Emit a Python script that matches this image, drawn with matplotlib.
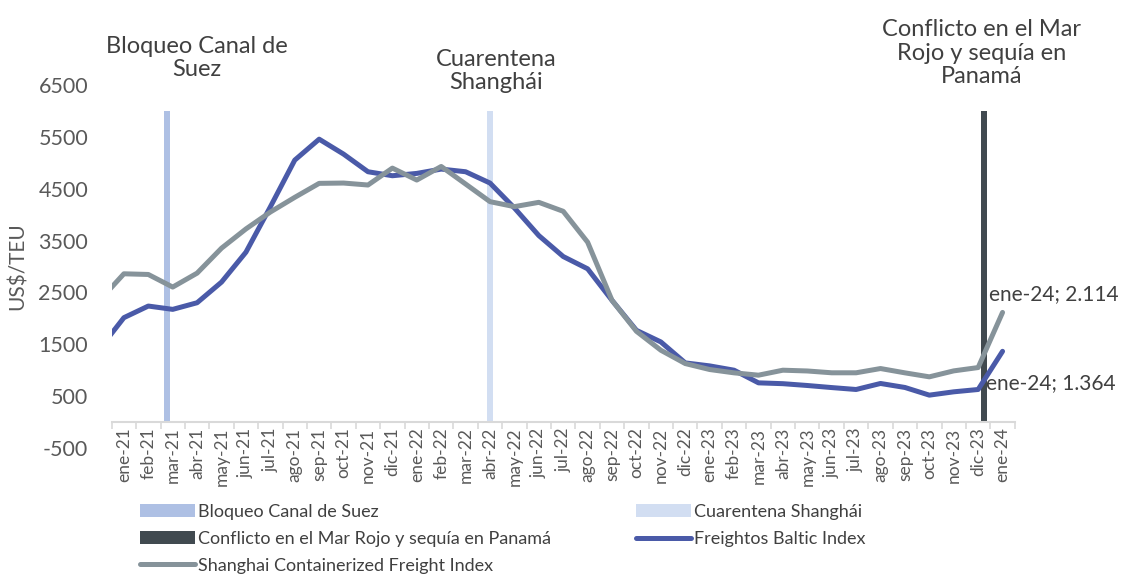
import matplotlib
matplotlib.use("Agg")
import matplotlib.pyplot as plt
import numpy as np

plt.rcParams['font.family'] = ['Lato', 'DejaVu Sans']
plt.rcParams['axes.unicode_minus'] = False

# meses del eje (ene-21 .. ene-24)
meses = ['ene-21', 'feb-21', 'mar-21', 'abr-21', 'may-21', 'jun-21', 'jul-21', 'ago-21',
         'sep-21', 'oct-21', 'nov-21', 'dic-21', 'ene-22', 'feb-22', 'mar-22', 'abr-22',
         'may-22', 'jun-22', 'jul-22', 'ago-22', 'sep-22', 'oct-22', 'nov-22', 'dic-22',
         'ene-23', 'feb-23', 'mar-23', 'abr-23', 'may-23', 'jun-23', 'jul-23', 'ago-23',
         'sep-23', 'oct-23', 'nov-23', 'dic-23', 'ene-24']

# valor de dic-20 (queda fuera del eje, solo se ve el tramo inicial)
fbx_dic20 = 1410
scfi_dic20 = 2345

# Freightos Baltic Index (US$/TEU)
fbx = [2013, 2237, 2173, 2301, 2699, 3276, 4150, 5051, 5455, 5167, 4827, 4750,
       4795, 4878, 4827, 4609, 4128, 3596, 3192, 2955, 2346, 1769, 1545, 1141,
       1083, 1000, 756, 740, 705, 665, 628, 744, 667, 519, 583, 628, 1364]

# Shanghai Containerized Freight Index (US$/TEU)
scfi = [2859, 2846, 2603, 2872, 3353, 3724, 4050, 4333, 4603, 4609, 4571, 4897,
        4667, 4929, 4590, 4250, 4154, 4237, 4064, 3468, 2346, 1750, 1385, 1128,
        1013, 949, 904, 1000, 985, 950, 950, 1032, 949, 872, 987, 1051, 2114]

# eventos (columnas)
eventos = ['Bloqueo Canal de Suez', 'Cuarentena Shanghái',
           'Conflicto en el Mar Rojo y sequía en Panamá']
eventos_mes = ['mar-21', 'abr-22', 'dic-23']
eventos_valor = [6000, 6000, 6000]
eventos_rotulo = ['Bloqueo Canal de\nSuez', 'Cuarentena\nShanghái',
                  'Conflicto en el Mar\nRojo y sequía en\nPanamá']

col_fbx = '#4a5aa8'
col_scfi = '#86939a'
col_eventos = ['#aec0e4', '#d2def2', '#414a50']
col_texto = '#404040'

fig = plt.figure(figsize=(11.26, 5.75), dpi=100)
ax = fig.add_axes([0.0992, 0.2209, 0.8020, 0.6313])

# eje x cruzando en 0 (antes de configurar ticks: set_position los reinicia)
for s in ['top', 'right', 'left']:
    ax.spines[s].set_visible(False)
ax.spines['bottom'].set_position(('data', 0))
ax.spines['bottom'].set_color('#d9d9d9')
ax.spines['bottom'].set_linewidth(1.5)
ax.spines['bottom'].set_zorder(2)

x = np.arange(len(meses))

# columnas de eventos (agrupadas como en un grafico de columnas)
desplaz = [-0.25, 0.0, 0.25]
barras = []
for i, ev in enumerate(eventos):
    pos = meses.index(eventos_mes[i])
    b = ax.bar(pos + desplaz[i], eventos_valor[i], width=0.25,
               color=col_eventos[i], label=ev, zorder=1)
    barras.append(b)

# rotulos de eventos (posiciones manuales, centro del texto)
rot_pos = [(2.99, 7019), (15.25, 6768), (35.13, 7115)]
for (tx, ty), txt in zip(rot_pos, eventos_rotulo):
    ax.text(tx, ty, txt, ha='center', va='center', fontsize=17,
            color=col_texto, linespacing=1.15, clip_on=False)

# lineas
xs = np.concatenate([[-1], x])
l_fbx, = ax.plot(xs, [fbx_dic20] + fbx, color=col_fbx, lw=3.6,
                 solid_capstyle='round', solid_joinstyle='round',
                 label='Freightos Baltic Index', zorder=3)
l_scfi, = ax.plot(xs, [scfi_dic20] + scfi, color=col_scfi, lw=3.6,
                  solid_capstyle='round', solid_joinstyle='round',
                  label='Shanghai Containerized Freight Index', zorder=3)


def fmt(v):
    return f"{v:,.0f}".replace(',', '.')


ax.annotate(f"{meses[-1]}; {fmt(scfi[-1])}", (x[-1], scfi[-1]),
            xytext=(-10, 13), textcoords='offset points', ha='left', va='center',
            fontsize=15, color=col_texto, annotation_clip=False)
ax.annotate(f"{meses[-1]}; {fmt(fbx[-1])}", (x[-1], fbx[-1]),
            xytext=(-12, -23), textcoords='offset points', ha='left', va='center',
            fontsize=15, color=col_texto, annotation_clip=False)

# ejes
ax.set_xlim(-0.5, len(meses) - 0.5)
ax.set_ylim(-500, 6500)
yt = list(range(-500, 6501, 1000))
ax.set_yticks(yt)
ax.set_yticklabels([str(v) for v in yt])
ax.tick_params(axis='y', length=0, pad=17, labelsize=15.5, labelcolor='#595959')

ax.set_xticks(x)
ax.set_xticklabels(meses)
ax.set_xticks(np.arange(-0.5, len(meses), 1), minor=True)
ax.tick_params(axis='x', which='major', length=0, pad=4, labelsize=12.5,
               labelcolor='#595959', labelrotation=90)
ax.tick_params(axis='x', which='minor', length=5, width=1.2, color='#d9d9d9')

ax.set_ylabel('US$/TEU', fontsize=15, color='#595959')
ax.yaxis.set_label_coords(-0.0927, 0.5)

# leyenda en dos columnas
kw = dict(loc='upper left', frameon=False, fontsize=13, handlelength=3.05,
          handletextpad=0.17, labelspacing=0.6, borderpad=0, borderaxespad=0,
          labelcolor=col_texto)
fig.legend([barras[0], barras[2], l_scfi],
           [eventos[0], eventos[2], 'Shanghai Containerized Freight Index'],
           bbox_to_anchor=(140 / 1126, 1 - 504 / 575), **kw)
fig.legend([barras[1], l_fbx],
           [eventos[1], 'Freightos Baltic Index'],
           bbox_to_anchor=(636 / 1126, 1 - 504 / 575), **kw)

fig.savefig('out.png', dpi=100)
